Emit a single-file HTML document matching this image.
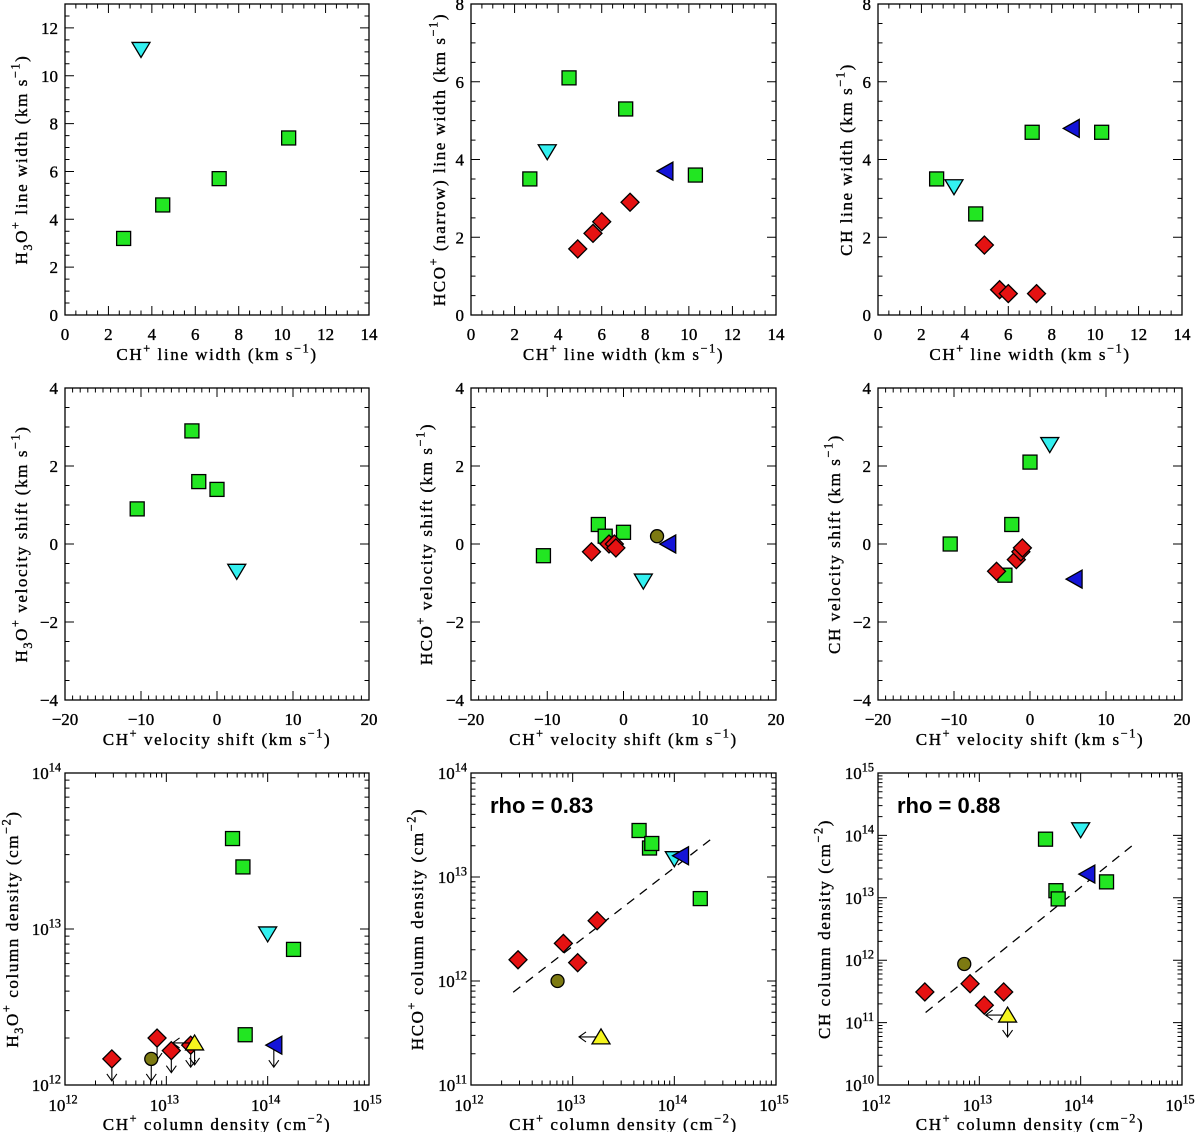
<!DOCTYPE html>
<html><head><meta charset="utf-8"><style>
html,body{margin:0;padding:0;background:#fff;}
svg{display:block;font-family:"Liberation Serif",serif;}
</style></head><body>
<svg id="fig" width="1200" height="1132" viewBox="0 0 1200 1132" xmlns="http://www.w3.org/2000/svg"></svg>
<script>
// ---------- data ----------
// Panel 1: CH+ line width vs H3O+ line width
const p1_green_x=[2.7,4.5,7.1,10.3], p1_green_y=[3.2,4.6,5.7,7.4];
const p1_cyan_x=[3.5], p1_cyan_y=[11.1];
// Panel 2: HCO+ narrow line width
const p2_green_x=[2.7,4.5,7.1,10.3], p2_green_y=[3.5,6.1,5.3,3.6];
const p2_cyan_x=[3.5], p2_cyan_y=[4.2];
const p2_blue_x=[8.9], p2_blue_y=[3.7];
const p2_red_x=[4.9,5.6,6.0,7.3], p2_red_y=[1.7,2.1,2.4,2.9];
// Panel 3: CH line width
const p3_green_x=[2.7,4.5,7.1,10.3], p3_green_y=[3.5,2.6,4.7,4.7];
const p3_cyan_x=[3.5], p3_cyan_y=[3.3];
const p3_blue_x=[8.9], p3_blue_y=[4.8];
const p3_red_x=[4.9,5.6,6.0,7.3], p3_red_y=[1.8,0.65,0.55,0.55];
// Panel 4: H3O+ velocity shift
const p4_green_x=[-10.5,-3.3,-2.4,0], p4_green_y=[0.9,2.9,1.6,1.4];
const p4_cyan_x=[2.6], p4_cyan_y=[-0.7];
// Panel 5: HCO+ velocity shift
const p5_green_x=[-10.5,-3.3,-2.4,0], p5_green_y=[-0.3,0.5,0.2,0.3];
const p5_red_x=[-4.2,-1.9,-1.2,-1.0], p5_red_y=[-0.2,0,0,-0.1];
const p5_olive_x=[4.4], p5_olive_y=[0.2];
const p5_blue_x=[5.8], p5_blue_y=[0];
const p5_cyan_x=[2.6], p5_cyan_y=[-0.95];
// Panel 6: CH velocity shift
const p6_green_x=[-10.5,-2.4,-3.3,0], p6_green_y=[0,0.5,-0.8,2.1];
const p6_cyan_x=[2.6], p6_cyan_y=[2.55];
const p6_blue_x=[5.8], p6_blue_y=[-0.9];
const p6_red_x=[-4.4,-1.8,-1.2,-1.0], p6_red_y=[-0.7,-0.4,-0.2,-0.1];
// Panel 7: H3O+ column density
const p7_green_x=[4.5e13,5.7e13,1.8e14,6.0e13], p7_green_y=[3.8e13,2.5e13,7.4e12,2.1e12];
const p7_cyan_x=[1.0e14], p7_cyan_y=[9.3e12];
const p7_blue_x=[1.15e14], p7_blue_y=[1.8e12];
const p7_red_x=[2.9e12,8.1e12,1.12e13,1.74e13], p7_red_y=[1.47e12,2.0e12,1.66e12,1.8e12];
const p7_olive_x=[7.1e12], p7_olive_y=[1.47e12];
const p7_yellow_x=[1.9e13], p7_yellow_y=[1.86e12];
// Panel 8: HCO+ column density
const p8_green_x=[4.5e13,5.7e13,6.0e13,1.8e14], p8_green_y=[2.8e13,1.9e13,2.1e13,6.2e12];
const p8_cyan_x=[1.0e14], p8_cyan_y=[1.5e13];
const p8_blue_x=[1.15e14], p8_blue_y=[1.6e13];
const p8_red_x=[2.9e12,8.1e12,1.12e13,1.74e13], p8_red_y=[1.6e12,2.3e12,1.5e12,3.8e12];
const p8_olive_x=[7.1e12], p8_olive_y=[1.0e12];
const p8_yellow_x=[1.9e13], p8_yellow_y=[2.9e11];
const p8_fit_x=[2.6e12,2.35e14], p8_fit_y=[7.8e11,2.35e13];
// Panel 9: CH column density
const p9_green_x=[4.5e13,5.7e13,6.0e13,1.8e14], p9_green_y=[8.7e13,1.3e13,9.6e12,1.8e13];
const p9_cyan_x=[1.0e14], p9_cyan_y=[1.23e14];
const p9_blue_x=[1.15e14], p9_blue_y=[2.4e13];
const p9_red_x=[2.9e12,8.1e12,1.12e13,1.74e13], p9_red_y=[3.1e11,4.2e11,1.9e11,3.1e11];
const p9_olive_x=[7.1e12], p9_olive_y=[8.7e11];
const p9_yellow_x=[1.9e13], p9_yellow_y=[1.32e11];
const p9_fit_x=[2.95e12,3.2e14], p9_fit_y=[1.45e11,6.8e13];

// ---------- drawing ----------
const NS='http://www.w3.org/2000/svg';
const svg=document.getElementById('fig');
function el(tag,attrs,parent){const e=document.createElementNS(NS,tag);for(const k in attrs)e.setAttribute(k,attrs[k]);(parent||svg).appendChild(e);return e;}
const COL={green:'#22e622',red:'#e51212',cyan:'#33f0f0',blue:'#1414d8',olive:'#7d7a12',yellow:'#f5f51e'};

function makeScale(min,max,p0,p1,log){
  return v=>{const t=log?(Math.log10(v)-min)/(max-min):(v-min)/(max-min);return p0+t*(p1-p0);};
}

function marker(g,shape,color,x,y){
  let m;
  const st={fill:color,stroke:'#000','stroke-width':1.3};
  if(shape==='sq'){m=el('rect',Object.assign({x:x-7,y:y-7,width:14,height:14},st),g);}
  else if(shape==='dia'){m=el('polygon',Object.assign({points:`${x},${y-9} ${x+9},${y} ${x},${y+9} ${x-9},${y}`},st),g);}
  else if(shape==='tdown'){m=el('polygon',Object.assign({points:`${x-9},${y-7} ${x+9},${y-7} ${x},${y+8}`},st),g);}
  else if(shape==='tup'){m=el('polygon',Object.assign({points:`${x-9},${y+7} ${x+9},${y+7} ${x},${y-8}`},st),g);}
  else if(shape==='tleft'){m=el('polygon',Object.assign({points:`${x+8},${y-9} ${x+8},${y+9} ${x-8},${y}`},st),g);}
  else if(shape==='circ'){m=el('circle',Object.assign({cx:x,cy:y,r:6.5},st),g);}
  
  
  return m;
}
function arrow(g,x,y,dir){
  const L=22,h=5;
  let d;
  if(dir==='down') d=`M${x},${y} L${x},${y+L} M${x-h},${y+L-7} L${x},${y+L} L${x+h},${y+L-7}`;
  else d=`M${x},${y} L${x-L},${y} M${x-L+7},${y-h} L${x-L},${y} L${x-L+7},${y+h}`;
  const a=el('path',{d:d,stroke:'#000','stroke-width':1.1,fill:'none'},g);
  
  
}

function textEl(g,x,y,parts,opts){
  const fs=opts.size||16;
  const t=el('text',Object.assign({x:x,y:y,'font-size':fs,fill:'#000',stroke:'#000','stroke-width':0.35},opts.attrs||{}),g);
  let cur='n';
  for(const [s,k] of parts){
    const sp=el('tspan',{},t);
    let dy=0;
    if(k==='sup'){dy=(cur==='n'?-0.45:(cur==='sub'?-0.8:0))*fs;sp.setAttribute('font-size',fs*0.72);}
    else if(k==='sub'){dy=(cur==='n'?0.3:(cur==='sup'?0.75:0))*fs;sp.setAttribute('font-size',fs*0.72);}
    else {dy=(cur==='sup'?0.45:(cur==='sub'?-0.3:0))*fs;}
    if(dy)sp.setAttribute('dy',dy.toFixed(1));
    sp.textContent=s;cur=k;
  }
  return t;
}

function panel(cfg){
  const g=el('g',{});
  
  
  const {L,R,T,B}=cfg;
  const sx=makeScale(cfg.xmin,cfg.xmax,L,R,cfg.xlog);
  const sy=makeScale(cfg.ymin,cfg.ymax,B,T,cfg.ylog);
  const box=el('rect',{x:L,y:T,width:R-L,height:B-T,fill:'none',stroke:'#000','stroke-width':1.3},g);
  
  
  let tp='';
  function tickList(min,max,log,major,minor){
    const maj=[],mn=[];
    if(log){for(let e=min;e<=max;e++){maj.push(e);if(e<max)for(let k=2;k<=9;k++)mn.push(e+Math.log10(k));}}
    else{for(let v=min;v<=max+1e-9;v+=minor){const r=Math.round(v/minor)*minor;if(Math.abs(r/major-Math.round(r/major))<1e-6)maj.push(r);else mn.push(r);}}
    return {maj,mn};
  }
  const xt=tickList(cfg.xmin,cfg.xmax,cfg.xlog,cfg.xmaj,cfg.xmin2);
  const yt=tickList(cfg.ymin,cfg.ymax,cfg.ylog,cfg.ymaj,cfg.ymin2);
  const lx=v=>cfg.xlog?L+(v-cfg.xmin)/(cfg.xmax-cfg.xmin)*(R-L):sx(v);
  const ly=v=>cfg.ylog?B-(v-cfg.ymin)/(cfg.ymax-cfg.ymin)*(B-T):sy(v);
  for(const v of xt.maj){const x=lx(v);tp+=`M${x},${B}v-9M${x},${T}v9`;}
  for(const v of xt.mn){const x=lx(v);tp+=`M${x},${B}v-4.5M${x},${T}v4.5`;}
  for(const v of yt.maj){const y=ly(v);tp+=`M${L},${y}h9M${R},${y}h-9`;}
  for(const v of yt.mn){const y=ly(v);tp+=`M${L},${y}h4.5M${R},${y}h-4.5`;}
  const tk=el('path',{d:tp,stroke:'#000','stroke-width':1,fill:'none'},g);
  
  
  for(const v of xt.maj){
    const x=lx(v);
    let t;
    if(cfg.xlog) t=textEl(g,x-2,B+26,[['10','n'],[String(v),'sup']],{size:17,attrs:{'text-anchor':'middle'}});
    else t=textEl(g,x,B+25,[[String(v).replace('-','\u2212'),'n']],{size:17,attrs:{'text-anchor':'middle'}});
    
    
  }
  for(const v of yt.maj){
    const y=ly(v);
    let t;
    if(cfg.ylog) t=textEl(g,L-4,y+6,[['10','n'],[String(v),'sup']],{size:17,attrs:{'text-anchor':'end'}});
    else t=textEl(g,L-7,y+6,[[String(v).replace('-','\u2212'),'n']],{size:17,attrs:{'text-anchor':'end'}});
    
    
  }
  const xtit=textEl(g,(L+R)/2,B+45,cfg.xtitle,{size:17,attrs:{'text-anchor':'middle','letter-spacing':'1.6'}});
  
  
  const ytit=textEl(g,0,0,cfg.ytitle,{size:17,attrs:{'text-anchor':'middle','letter-spacing':'1.6',transform:`translate(${cfg.ytx},${(T+B)/2}) rotate(-90)`}});
  
  
  if(cfg.fit){
    const fl=el('line',{x1:sx(cfg.fit[0][0]),y1:sy(cfg.fit[1][0]),x2:sx(cfg.fit[0][1]),y2:sy(cfg.fit[1][1]),stroke:'#000','stroke-width':1.3,'stroke-dasharray':'9,7'},g);
    
    
  }
  if(cfg.rho){
    const rt=el('text',{x:L+19,y:T+40,'font-family':'Liberation Sans, sans-serif','font-weight':'bold','font-size':22,fill:'#000'},g);
    rt.textContent=cfg.rho;
    
    
  }
  for(const s of cfg.series){
    for(let i=0;i<s.x.length;i++){
      const x=sx(s.x[i]),y=sy(s.y[i]);
      if(s.down) arrow(g,x,y,'down');
      if(s.left) arrow(g,x,y,'left');
      marker(g,s.shape,COL[s.c],x,y);
    }
  }
}

const X1=[65,369],X2=[471,776],X3=[878,1182];
const Y1=[4,315],Y2=[388,700],Y3=[773,1085];
const lwX=[['CH','n'],['+','sup'],[' line width (km s','n'],['\u22121','sup'],[')','n']];
const vsX=[['CH','n'],['+','sup'],[' velocity shift (km s','n'],['\u22121','sup'],[')','n']];
const cdX=[['CH','n'],['+','sup'],[' column density (cm','n'],['\u22122','sup'],[')','n']];

panel({name:'panel-h3o-linewidth',L:X1[0],R:X1[1],T:Y1[0],B:Y1[1],xmin:0,xmax:14,xmaj:2,xmin2:0.5,ymin:0,ymax:13,ymaj:2,ymin2:0.5,
  xtitle:lwX,ytitle:[['H','n'],['3','sub'],['O','n'],['+','sup'],[' line width (km s','n'],['\u22121','sup'],[')','n']],ytx:27,
  series:[{shape:'sq',c:'green',x:p1_green_x,y:p1_green_y},{shape:'tdown',c:'cyan',x:p1_cyan_x,y:p1_cyan_y}]});
panel({name:'panel-hco-linewidth',L:X2[0],R:X2[1],T:Y1[0],B:Y1[1],xmin:0,xmax:14,xmaj:2,xmin2:0.5,ymin:0,ymax:8,ymaj:2,ymin2:0.5,
  xtitle:lwX,ytitle:[['HCO','n'],['+','sup'],[' (narrow) line width (km s','n'],['\u22121','sup'],[')','n']],ytx:445,
  series:[{shape:'sq',c:'green',x:p2_green_x,y:p2_green_y},{shape:'tdown',c:'cyan',x:p2_cyan_x,y:p2_cyan_y},{shape:'tleft',c:'blue',x:p2_blue_x,y:p2_blue_y},{shape:'dia',c:'red',x:p2_red_x,y:p2_red_y}]});
panel({name:'panel-ch-linewidth',L:X3[0],R:X3[1],T:Y1[0],B:Y1[1],xmin:0,xmax:14,xmaj:2,xmin2:0.5,ymin:0,ymax:8,ymaj:2,ymin2:0.5,
  xtitle:lwX,ytitle:[['CH line width (km s','n'],['\u22121','sup'],[')','n']],ytx:852,
  series:[{shape:'sq',c:'green',x:p3_green_x,y:p3_green_y},{shape:'tdown',c:'cyan',x:p3_cyan_x,y:p3_cyan_y},{shape:'tleft',c:'blue',x:p3_blue_x,y:p3_blue_y},{shape:'dia',c:'red',x:p3_red_x,y:p3_red_y}]});

panel({name:'panel-h3o-velocity',L:X1[0],R:X1[1],T:Y2[0],B:Y2[1],xmin:-20,xmax:20,xmaj:10,xmin2:1,ymin:-4,ymax:4,ymaj:2,ymin2:0.5,
  xtitle:vsX,ytitle:[['H','n'],['3','sub'],['O','n'],['+','sup'],[' velocity shift (km s','n'],['\u22121','sup'],[')','n']],ytx:27,
  series:[{shape:'sq',c:'green',x:p4_green_x,y:p4_green_y},{shape:'tdown',c:'cyan',x:p4_cyan_x,y:p4_cyan_y}]});
panel({name:'panel-hco-velocity',L:X2[0],R:X2[1],T:Y2[0],B:Y2[1],xmin:-20,xmax:20,xmaj:10,xmin2:1,ymin:-4,ymax:4,ymaj:2,ymin2:0.5,
  xtitle:vsX,ytitle:[['HCO','n'],['+','sup'],[' velocity shift (km s','n'],['\u22121','sup'],[')','n']],ytx:432,
  series:[{shape:'sq',c:'green',x:p5_green_x,y:p5_green_y},{shape:'dia',c:'red',x:p5_red_x,y:p5_red_y},{shape:'circ',c:'olive',x:p5_olive_x,y:p5_olive_y},{shape:'tleft',c:'blue',x:p5_blue_x,y:p5_blue_y},{shape:'tdown',c:'cyan',x:p5_cyan_x,y:p5_cyan_y}]});
panel({name:'panel-ch-velocity',L:X3[0],R:X3[1],T:Y2[0],B:Y2[1],xmin:-20,xmax:20,xmaj:10,xmin2:1,ymin:-4,ymax:4,ymaj:2,ymin2:0.5,
  xtitle:vsX,ytitle:[['CH velocity shift (km s','n'],['\u22121','sup'],[')','n']],ytx:840,
  series:[{shape:'sq',c:'green',x:p6_green_x,y:p6_green_y},{shape:'dia',c:'red',x:p6_red_x,y:p6_red_y},{shape:'tdown',c:'cyan',x:p6_cyan_x,y:p6_cyan_y},{shape:'tleft',c:'blue',x:p6_blue_x,y:p6_blue_y}]});

panel({name:'panel-h3o-column',L:X1[0],R:X1[1],T:Y3[0],B:Y3[1],xmin:12,xmax:15,xlog:true,ymin:12,ymax:14,ylog:true,
  xtitle:cdX,ytitle:[['H','n'],['3','sub'],['O','n'],['+','sup'],[' column density (cm','n'],['\u22122','sup'],[')','n']],ytx:18,
  series:[{shape:'sq',c:'green',x:p7_green_x,y:p7_green_y},{shape:'tdown',c:'cyan',x:p7_cyan_x,y:p7_cyan_y},{shape:'tleft',c:'blue',x:p7_blue_x,y:p7_blue_y,down:true},{shape:'dia',c:'red',x:p7_red_x,y:p7_red_y,down:true},{shape:'circ',c:'olive',x:p7_olive_x,y:p7_olive_y,down:true},{shape:'tup',c:'yellow',x:p7_yellow_x,y:p7_yellow_y,down:true,left:true}]});
panel({name:'panel-hco-column',L:X2[0],R:X2[1],T:Y3[0],B:Y3[1],xmin:12,xmax:15,xlog:true,ymin:11,ymax:14,ylog:true,rho:'rho = 0.83',fit:[p8_fit_x,p8_fit_y],
  xtitle:cdX,ytitle:[['HCO','n'],['+','sup'],[' column density (cm','n'],['\u22122','sup'],[')','n']],ytx:423,
  series:[{shape:'sq',c:'green',x:p8_green_x,y:p8_green_y},{shape:'tdown',c:'cyan',x:p8_cyan_x,y:p8_cyan_y},{shape:'tleft',c:'blue',x:p8_blue_x,y:p8_blue_y},{shape:'dia',c:'red',x:p8_red_x,y:p8_red_y},{shape:'circ',c:'olive',x:p8_olive_x,y:p8_olive_y},{shape:'tup',c:'yellow',x:p8_yellow_x,y:p8_yellow_y,left:true}]});
panel({name:'panel-ch-column',L:X3[0],R:X3[1],T:Y3[0],B:Y3[1],xmin:12,xmax:15,xlog:true,ymin:10,ymax:15,ylog:true,rho:'rho = 0.88',fit:[p9_fit_x,p9_fit_y],
  xtitle:cdX,ytitle:[['CH column density (cm','n'],['\u22122','sup'],[')','n']],ytx:830,
  series:[{shape:'sq',c:'green',x:p9_green_x,y:p9_green_y},{shape:'tdown',c:'cyan',x:p9_cyan_x,y:p9_cyan_y},{shape:'tleft',c:'blue',x:p9_blue_x,y:p9_blue_y},{shape:'dia',c:'red',x:p9_red_x,y:p9_red_y},{shape:'circ',c:'olive',x:p9_olive_x,y:p9_olive_y},{shape:'tup',c:'yellow',x:p9_yellow_x,y:p9_yellow_y,down:true,left:true}]});
</script>
</body></html>
